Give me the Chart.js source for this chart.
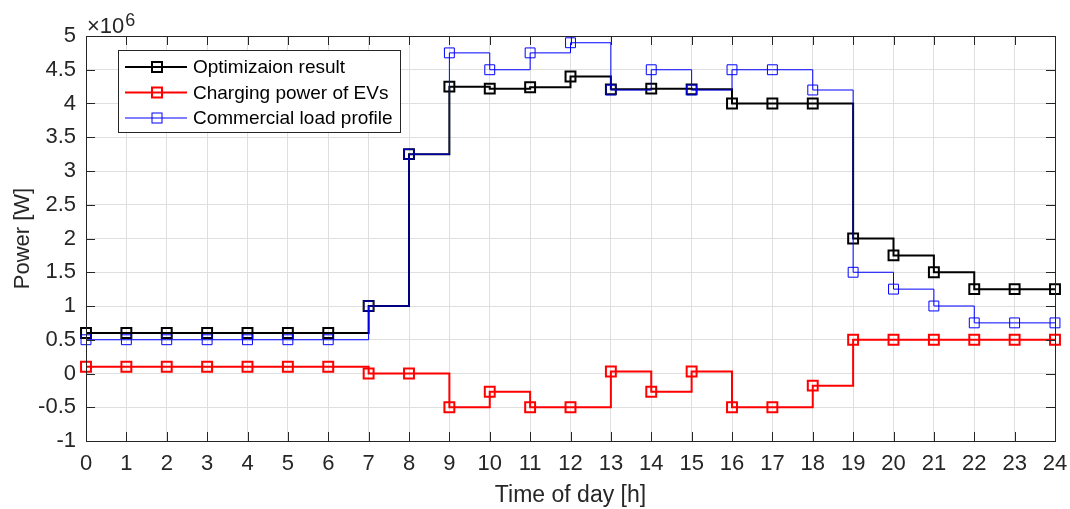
<!DOCTYPE html>
<html>
<head>
<meta charset="utf-8">
<script src="https://cdn.jsdelivr.net/npm/chart.js@4/dist/chart.umd.min.js"></script>
<style>
  body { margin: 0; background: #fff; }
  #wrap { width: 1070px; height: 509px; position: relative; }
</style>
</head>
<body>
<div id="wrap"><canvas id="powerChart"></canvas></div>
<script>
// hour of day (stairs start points)
const hours = [0, 1, 2, 3, 4, 5, 6, 7, 8, 9, 10, 11, 12, 13, 14, 15, 16, 17, 18, 19, 20, 21, 22, 23, 24];

// values in units of 10^6 W
const optimizationResult = [0.6, 0.6, 0.6, 0.6, 0.6, 0.6, 0.6, 1.0, 3.25, 4.25, 4.22, 4.24, 4.4, 4.21, 4.22, 4.21, 4.0, 4.0, 4.0, 2.0, 1.75, 1.5, 1.25, 1.25, 1.25];
const evCharging = [0.1, 0.1, 0.1, 0.1, 0.1, 0.1, 0.1, 0.0, 0.0, -0.5, -0.27, -0.5, -0.5, 0.03, -0.27, 0.03, -0.5, -0.5, -0.18, 0.5, 0.5, 0.5, 0.5, 0.5, 0.5];
const commercialLoad = [0.5, 0.5, 0.5, 0.5, 0.5, 0.5, 0.5, 1.0, 3.25, 4.75, 4.5, 4.75, 4.9, 4.2, 4.5, 4.2, 4.5, 4.5, 4.2, 1.5, 1.25, 1.0, 0.75, 0.75, 0.75];

const seriesNames = ['Optimizaion result', 'Charging power of EVs', 'Commercial load profile'];
const yTicks = [-1, -0.5, 0, 0.5, 1, 1.5, 2, 2.5, 3, 3.5, 4, 4.5, 5];

const FONT = "'Liberation Sans', Arial, sans-serif";
const AXIS_COLOR = '#262626';

const toPoints = (vals) => hours.map((h, i) => ({ x: h, y: vals[i] }));

const seriesStyle = [
    { color: '#000000', width: 2, order: 1 },
    { color: '#ff0000', width: 2, order: 2 },
    { color: '#0000ff', width: 1, order: 0 }
];

const makeDataset = (label, vals, st) => ({
    label: label,
    data: toPoints(vals),
    stepped: 'before',
    borderColor: st.color,
    borderWidth: st.width,
    pointStyle: 'rect',
    pointRadius: 7,
    pointBorderWidth: st.width,
    pointBorderColor: st.color,
    pointBackgroundColor: 'rgba(0,0,0,0)',
    fill: false,
    clip: false,
    order: st.order
});

// MATLAB-like box, inward ticks, legend and exponent label
const matlabAxes = {
    id: 'matlabAxes',
    afterDatasetsDraw(chart) {
        const { ctx, chartArea: a, scales } = chart;
        const len = 9;
        ctx.save();
        ctx.strokeStyle = AXIS_COLOR;
        ctx.lineWidth = 1;
        ctx.beginPath();
        hours.forEach((h) => {
            const x = Math.round(scales.x.getPixelForValue(h)) + 0.5;
            ctx.moveTo(x, a.bottom); ctx.lineTo(x, a.bottom - len);
            ctx.moveTo(x, a.top); ctx.lineTo(x, a.top + len);
        });
        yTicks.forEach((v) => {
            const y = Math.round(scales.y.getPixelForValue(v)) + 0.5;
            ctx.moveTo(a.left, y); ctx.lineTo(a.left + len, y);
            ctx.moveTo(a.right, y); ctx.lineTo(a.right - len, y);
        });
        ctx.stroke();
        ctx.strokeRect(Math.round(a.left) + 0.5, Math.round(a.top) + 0.5,
            Math.round(a.right - a.left), Math.round(a.bottom - a.top));
        ctx.restore();
    },
    afterDraw(chart) {
        const { ctx, chartArea: a } = chart;
        ctx.save();
        // exponent label
        ctx.fillStyle = AXIS_COLOR;
        ctx.textBaseline = 'alphabetic';
        ctx.font = '22px ' + FONT;
        ctx.fillText('\u00d710', a.left + 1, 33);
        const w = ctx.measureText('\u00d710').width;
        ctx.font = '18px ' + FONT;
        ctx.fillText('6', a.left + 2 + w, 26);

        // legend box
        const box = { x: 118.5, y: 50.5, w: 282, h: 82 };
        ctx.fillStyle = '#ffffff';
        ctx.fillRect(box.x, box.y, box.w, box.h);
        ctx.strokeStyle = AXIS_COLOR;
        ctx.lineWidth = 1;
        ctx.strokeRect(box.x, box.y, box.w, box.h);
        ctx.font = '19px ' + FONT;
        ctx.textBaseline = 'middle';
        seriesNames.forEach((name, i) => {
            const st = seriesStyle[i];
            const y = 67 + i * 25.5;
            ctx.strokeStyle = st.color;
            ctx.lineWidth = st.width;
            ctx.beginPath();
            ctx.moveTo(125, y);
            ctx.lineTo(187, y);
            ctx.stroke();
            ctx.strokeRect(152, y - 5, 10, 10);
            ctx.fillStyle = '#000000';
            ctx.fillText(name, 193, y + 1);
        });
        ctx.restore();
    }
};

const ctx = document.getElementById('powerChart').getContext('2d');

const powerChart = new Chart(ctx, {
    type: 'line',
    data: {
        datasets: [
            makeDataset(seriesNames[0], optimizationResult, seriesStyle[0]),
            makeDataset(seriesNames[1], evCharging, seriesStyle[1]),
            makeDataset(seriesNames[2], commercialLoad, seriesStyle[2])
        ]
    },
    options: {
        responsive: true,
        maintainAspectRatio: false,
        animation: false,
        layout: {
            padding: { left: 0, top: 36, right: 15, bottom: 0 }
        },
        plugins: {
            legend: { display: false },
            tooltip: { enabled: false }
        },
        scales: {
            x: {
                type: 'linear',
                min: 0,
                max: 24,
                afterFit: (scale) => {
                    scale.height = 68;
                    scale.paddingLeft = 0;
                    scale.paddingRight = 0;
                },
                ticks: {
                    stepSize: 1,
                    autoSkip: false,
                    maxRotation: 0,
                    padding: 10,
                    color: AXIS_COLOR,
                    font: { family: FONT, size: 22 }
                },
                grid: { color: '#dfdfdf', drawTicks: false },
                border: { display: false },
                title: {
                    display: true,
                    text: 'Time of day [h]',
                    color: AXIS_COLOR,
                    font: { family: FONT, size: 23 },
                    padding: { top: 2, bottom: 0 }
                }
            },
            y: {
                min: -1,
                max: 5,
                afterFit: (scale) => {
                    scale.width = 86;
                    scale.paddingTop = 0;
                    scale.paddingBottom = 0;
                },
                ticks: {
                    stepSize: 0.5,
                    padding: 10,
                    color: AXIS_COLOR,
                    font: { family: FONT, size: 22 },
                    callback: (v) => String(v)
                },
                grid: { color: '#dfdfdf', drawTicks: false },
                border: { display: false },
                title: {
                    display: true,
                    text: 'Power [W]',
                    color: AXIS_COLOR,
                    font: { family: FONT, size: 22 },
                    padding: { top: 10, bottom: 0 }
                }
            }
        }
    },
    plugins: [matlabAxes]
});
</script>
</body>
</html>
